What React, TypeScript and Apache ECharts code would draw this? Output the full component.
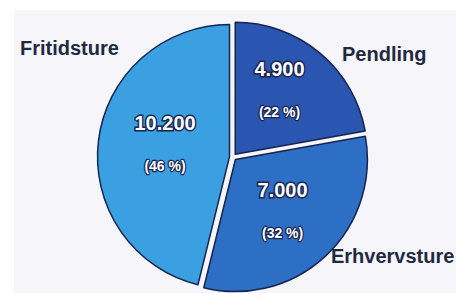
import React, { useEffect, useRef } from "react";
import * as echarts from "echarts";

const categories = ["Pendling", "Erhvervsture", "Fritidsture"];
const values = [4900, 7000, 10200];
const colors = ["#2a55b1", "#2e6fc6", "#3ba0e1"];
// outer name label anchor positions (layout only)
const namePos = [
  [342, 54],
  [331, 256],
  [20, 48],
];
// inside label nudges (layout only)
const innerShift = [
  [0, -11],
  [0, 1],
  [4, -4],
];

const fmt = (n: number) => String(n).replace(/\B(?=(\d{3})+(?!\d))/g, ".");

export default function App() {
  const ref = useRef<HTMLDivElement>(null);
  useEffect(() => {
    const chart = echarts.init(ref.current!, undefined, { renderer: "svg" });
    const data = categories.map((name, i) => ({
      name,
      value: values[i],
      selected: true,
      itemStyle: { color: colors[i] },
    }));
    chart.setOption({
      animation: false,
      backgroundColor: "#ffffff",
      graphic: [
        {
          type: "rect",
          z: -10,
          shape: { x: 14, y: 10, width: 442, height: 283 },
          style: { fill: "#f5f5fa" },
        },
      ],
      series: [
        {
          type: "pie",
          center: [233, 157],
          radius: [0, 132],
          startAngle: 90,
          selectedMode: "multiple",
          selectedOffset: 3.5,
          silent: true,
          itemStyle: { borderColor: "#15254f", borderWidth: 1.5 },
          label: {
            show: true,
            position: "inside",
            formatter: (p: any) =>
              `{v|${fmt(p.value)}}\n{p|(${Math.round(p.percent)} %)}`,
            rich: {
              v: {
                fontFamily: "Liberation Sans, Arial, sans-serif",
                fontWeight: "bold",
                fontSize: 20,
                color: "#ffffff",
                textBorderColor: "#1a2650",
                textBorderWidth: 3,
                lineHeight: 44,
              },
              p: {
                fontFamily: "Liberation Sans, Arial, sans-serif",
                fontWeight: "bold",
                fontSize: 14,
                color: "#ffffff",
                textBorderColor: "#1a2650",
                textBorderWidth: 2.5,
                lineHeight: 42,
              },
            },
          },
          labelLayout: (params: any) => ({
            dx: innerShift[params.dataIndex][0],
            dy: innerShift[params.dataIndex][1],
          }),
          labelLine: { show: false },
          data,
        },
        {
          type: "pie",
          center: [233, 157],
          radius: [0, 132],
          startAngle: 90,
          silent: true,
          z: 5,
          itemStyle: { color: "rgba(0,0,0,0)", borderWidth: 0 },
          label: {
            show: true,
            position: "outside",
            formatter: "{b}",
            overflow: "none",
            width: 200,
            fontFamily: "Liberation Sans, Arial, sans-serif",
            fontWeight: "bold",
            fontSize: 20,
            color: "#1f2940",
          },
          labelLine: { show: false },
          labelLayout: (params: any) => ({
            x: namePos[params.dataIndex][0],
            y: namePos[params.dataIndex][1],
            align: "left",
            verticalAlign: "middle",
          }),
          data: categories.map((name, i) => ({ name, value: values[i] })),
        },
      ],
    });
    return () => chart.dispose();
  }, []);
  return (
    <div
      ref={ref}
      style={{ position: "fixed", left: 0, top: 0, width: 457, height: 293 }}
    />
  );
}
